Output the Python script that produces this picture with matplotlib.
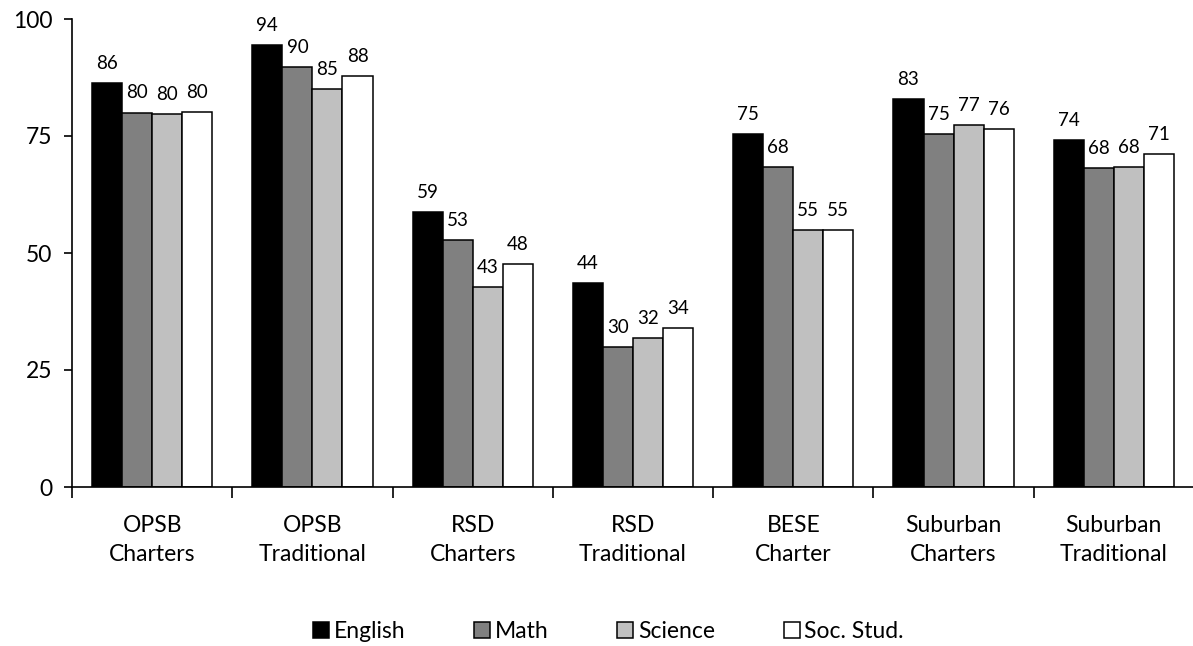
import matplotlib.pyplot as plt
import numpy as np

plt.rcParams['font.family'] = ['Lato', 'DejaVu Sans']

groups = ['OPSB\nCharters', 'OPSB\nTraditional', 'RSD\nCharters', 'RSD\nTraditional',
          'BESE\nCharter', 'Suburban\nCharters', 'Suburban\nTraditional']
subjects = ['English', 'Math', 'Science', 'Soc. Stud.']

english = [86.3, 94.5, 58.8, 43.6, 75.4, 82.9, 74.1]
math = [80.0, 89.7, 52.8, 29.9, 68.4, 75.4, 68.2]
science = [79.6, 85.0, 42.7, 31.8, 54.9, 77.4, 68.4]
socstud = [80.1, 87.8, 47.6, 34.0, 54.9, 76.4, 71.2]

colors = ['#000000', '#808080', '#c0c0c0', '#ffffff']

fig = plt.figure(figsize=(11.93, 6.46), dpi=100)
ax = fig.add_axes([72 / 1193, 1 - 487 / 646, 1122 / 1193, 468 / 646])

x = np.arange(len(groups))
w = 0.1875
for i, (vals, c) in enumerate(zip([english, math, science, socstud], colors)):
    bars = ax.bar(x + (i - 1.5) * w, vals, w, color=c, edgecolor='black',
                  linewidth=1.1, label=subjects[i], zorder=2)
    ax.bar_label(bars, labels=[f'{v:.0f}' for v in vals], padding=8, fontsize=13.5)

ax.set_xlim(-0.5, len(groups) - 0.5)
ax.set_ylim(0, 100)
ax.set_yticks([0, 25, 50, 75, 100])
ax.tick_params(axis='y', labelsize=16.5, length=6, width=1.2, direction='out', pad=8)

ax.set_xticks(np.arange(len(groups) + 1) - 0.5)
ax.set_xticklabels([])
ax.tick_params(axis='x', which='major', length=8, width=1.2, direction='out')
ax.set_xticks(x, minor=True)
ax.set_xticklabels(groups, minor=True, fontsize=16.5, linespacing=1.5)
ax.tick_params(axis='x', which='minor', length=0, pad=20)

for s in ['top', 'right']:
    ax.spines[s].set_visible(False)
for s in ['left', 'bottom']:
    ax.spines[s].set_linewidth(1.2)

fig.legend(loc='center', bbox_to_anchor=(0.51, 0.022), ncol=4, frameon=False,
           fontsize=16.5, handlelength=0.7, handleheight=0.7, handletextpad=0.2,
           columnspacing=3.0)

fig.savefig('out.png', dpi=100)
